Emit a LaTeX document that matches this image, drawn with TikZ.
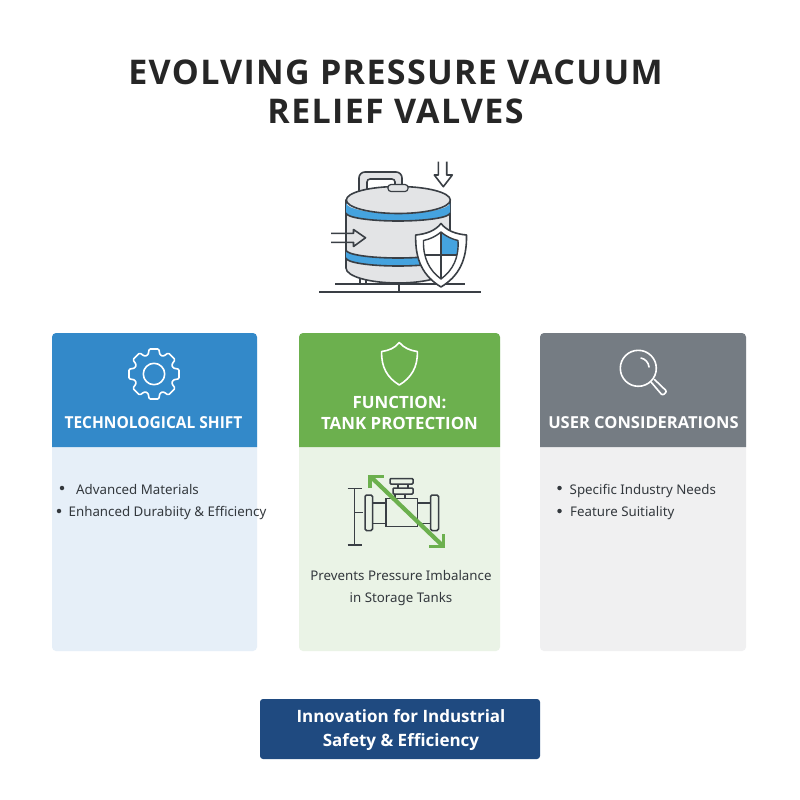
\documentclass[tikz,border=0pt]{standalone}
\usepackage{fontspec}
\setmainfont{Noto Sans}
\newfontfamily\titlefont[LetterSpace=4.0]{Open Sans}
\newfontfamily\headfont{Open Sans}
\newfontfamily\headfontn[FakeStretch=0.94]{Open Sans}
\usetikzlibrary{calc}
\definecolor{ink}{HTML}{3A3F45}
\definecolor{tankgrey}{HTML}{E3E4E6}
\definecolor{bandblue}{HTML}{45A3DF}
\definecolor{hblue}{HTML}{3389C9}
\definecolor{bblue}{HTML}{E6EFF8}
\definecolor{hgreen}{HTML}{6CB04E}
\definecolor{bgreen}{HTML}{EAF3E6}
\definecolor{hgrey}{HTML}{757C83}
\definecolor{bgrey}{HTML}{F0F0F1}
\definecolor{navy}{HTML}{1F4A80}
\definecolor{txt}{HTML}{33383D}
\tikzset{
 titletext/.style={font=\titlefont\bfseries\fontsize{34}{39.5}\selectfont,text=black!85,align=center},
 headtext/.style={font=\headfont\bfseries\fontsize{16.5}{20.5}\selectfont,text=white,align=center},
 bodytext/.style={font=\fontsize{13.3}{22}\selectfont,text=txt},
 bannertext/.style={font=\headfont\bfseries\fontsize{17}{24}\selectfont,text=white,align=center},
 dotmark/.style={circle,fill=txt,inner sep=0pt,minimum size=4.5pt},
 tankline/.style={draw=ink,line width=1.6pt,line join=round},
 whiteicon/.style={draw=white,line width=1.6pt,line join=round,line cap=round},
 valveline/.style={draw=ink,line width=1.5pt,fill=bgreen},
 greenarrow/.style={draw=hgreen,line width=3.4pt},
}
\begin{document}
\begin{tikzpicture}[x=1pt,y=-1pt]
\useasboundingbox (0,0) rectangle (800,800);
\fill[white] (0,0) rectangle (800,800);
\node[titletext] (title) at (395.5,92) {EVOLVING PRESSURE VACUUM\\RELIEF VALVES};

% tank handle
\draw[tankline,fill=tankgrey] (359,192) [rounded corners=6pt] -- (359,172) -- (402,172) [sharp corners] -- (402,187) -- (395,187) [rounded corners=3pt] -- (395,179) -- (367,179) [sharp corners] -- (367,190) -- cycle;
% tank body
\draw[tankline,fill=tankgrey] (346,200) -- (346,268) arc[start angle=180,end angle=0,x radius=52,y radius=15] -- (450,200) -- cycle;
% bands
\fill[bandblue] (346,203) arc[start angle=180,end angle=0,x radius=52,y radius=10.5] -- (450,213) arc[start angle=0,end angle=180,x radius=52,y radius=8] -- cycle;
\draw[ink,line width=1.6pt] (346,213) arc[start angle=180,end angle=0,x radius=52,y radius=8];
\fill[bandblue] (346,250) arc[start angle=180,end angle=0,x radius=52,y radius=8] -- (450,258) arc[start angle=0,end angle=180,x radius=52,y radius=8] -- cycle;
\draw[ink,line width=1.6pt] (346,250) arc[start angle=180,end angle=0,x radius=52,y radius=8];
\draw[ink,line width=1.6pt] (346,258) arc[start angle=180,end angle=0,x radius=52,y radius=8];
\draw[tankline,fill=tankgrey] (398.3,200) ellipse[x radius=52,y radius=13.5];
\draw[tankline,fill=tankgrey,line width=1.2pt,rounded corners=3pt] (388,184.5) rectangle (408,191.5);
% ground
\draw[ink,line width=1.3pt] (335,284) -- (465,284);
\draw[ink,line width=1.6pt] (319,292) -- (481,292);
\draw[ink,line width=1.3pt] (399,284) -- (399,292);
\draw[ink,line width=1.3pt] (360,279) -- (360,284) (366,279) -- (366,284);
% inlet arrow
\draw[ink,line width=1.6pt,line join=round] (331,233.3) -- (353.5,233.3) -- (353.5,229.5) -- (365.5,237.8) -- (353.5,246.5) -- (353.5,242.3) -- (331,242.3);
% down arrow
\draw[ink,line width=1.6pt,line join=round] (438.3,161.7) -- (438.3,175) -- (434.3,175) -- (443.3,186.7) -- (452.3,175) -- (446.7,175) -- (446.7,161.7);
% big shield
\draw[draw=ink,fill=white,line width=1.6pt,line join=round] (441,223.5) .. controls (447,231) and (456,234) .. (466.5,235) .. controls (467,260) and (459,276) .. (441,287) .. controls (423,276) and (415,260) .. (415.7,235) .. controls (426,234) and (435,231) .. (441,223.5) -- cycle;
\fill[bandblue] (441,232) .. controls (447,237) and (452,239) .. (458,240.5) .. controls (458.5,246) and (458,251) .. (457,255) -- (441,255) -- cycle;
\draw[draw=ink,line width=1.4pt,line join=round] (441,232) .. controls (447,237) and (452,239) .. (458,240.5) .. controls (459,258) and (453,270) .. (441,279) .. controls (429,270) and (423,258) .. (423.5,240.5) .. controls (430,239) and (435,237) .. (441,232) -- cycle;
\draw[ink,line width=1.3pt] (441,232) -- (441,279) (425,255) -- (457,255);

% cards
\fill[bblue,rounded corners=4pt] (52,340) rectangle (257,651);
\fill[hblue] (52,447) [rounded corners=4pt] -- (52,333) -- (257,333) [sharp corners] -- (257,447) -- cycle;
\fill[bgreen,rounded corners=4pt] (299,340) rectangle (500,651);
\fill[hgreen] (299,447) [rounded corners=4pt] -- (299,333) -- (500,333) [sharp corners] -- (500,447) -- cycle;
\fill[bgrey,rounded corners=4pt] (540,340) rectangle (746,651);
\fill[hgrey] (540,447) [rounded corners=4pt] -- (540,333) -- (746,333) [sharp corners] -- (746,447) -- cycle;

% gear
\begin{scope}[shift={(154,374)}]
\draw[whiteicon,rounded corners=1.2pt]
 (-11:25.5) -- (11:25.5) -- (17:20) -- (28:20) -- (34:25.5) -- (56:25.5) -- (62:20) -- (73:20) -- (79:25.5) -- (101:25.5) -- (107:20) -- (118:20) -- (124:25.5) -- (146:25.5) -- (152:20) -- (163:20) -- (169:25.5) -- (191:25.5) -- (197:20) -- (208:20) -- (214:25.5) -- (236:25.5) -- (242:20) -- (253:20) -- (259:25.5) -- (281:25.5) -- (287:20) -- (298:20) -- (304:25.5) -- (326:25.5) -- (332:20) -- (343:20) -- cycle;
\draw[whiteicon] (0,0) circle[radius=10.7];
\end{scope}
% header shield
\draw[whiteicon] (399.3,342.5) .. controls (404,348) and (410,350.5) .. (417.3,351.5) .. controls (418,367) and (411,378) .. (399.3,385) .. controls (387.5,378) and (381,367) .. (381.7,351.5) .. controls (389,350.5) and (395,348) .. (399.3,342.5) -- cycle;
% magnifier
\draw[whiteicon] (638.3,368.3) circle[radius=18];
\draw[whiteicon] (641,358) .. controls (645.5,359) and (648.5,362.5) .. (649,367);
\draw[whiteicon,rounded corners=2pt] (651,382) -- (662.5,395.5) -- (667,391.5) -- (654.5,379.5);

\node[headtext,font=\headfontn\bfseries\fontsize{16.5}{20.5}\selectfont] (head1) at (153.5,423) {TECHNOLOGICAL SHIFT};
\node[headtext,font=\headfont\bfseries\fontsize{16.9}{20.5}\selectfont] (head2) at (399.5,413) {FUNCTION:\\TANK PROTECTION};
\node[headtext] (head3) at (643.5,423) {USER CONSIDERATIONS};

% card 1 list
\node[dotmark] (d1) at (62,488) {};
\node[bodytext,anchor=base west,inner sep=0pt] (t1) at (76,494) {Advanced Materials};
\node[dotmark] (d2) at (59,511) {};
\node[bodytext,anchor=base west,inner sep=0pt] (t2) at (68.5,516) {Enhanced Durabiity \& Efficiency};
% card 3 list
\node[dotmark] (d3) at (559.5,488) {};
\node[bodytext,anchor=base west,inner sep=0pt] (t3) at (569.5,494) {Specific Industry Needs};
\node[dotmark] (d4) at (559.5,511) {};
\node[bodytext,anchor=base west,inner sep=0pt] (t4) at (570,516) {Feature Suitiality};

% valve
\draw[ink,line width=1.5pt] (347.5,488.5) -- (361.5,488.5) (354.5,488.5) -- (354.5,512.5) -- (363,512.5) (354.5,512.5) -- (354.5,545) (347.5,545) -- (361.5,545);
\draw[valveline] (395,494) rectangle (405,500);
\draw[valveline,rounded corners=1pt] (393,488) rectangle (413,494);
\draw[valveline,rounded corners=1pt] (390,478.5) rectangle (413,484);
\draw[ink,line width=1.5pt] (398,484) -- (398,488) (408,484) -- (408,488);
\draw[valveline] (372.5,503) rectangle (430.5,523.5);
\draw[valveline] (386,498.5) rectangle (417.5,526.5);
\draw[valveline,rounded corners=1.5pt] (365,495) rectangle (372.5,530.5);
\draw[valveline,rounded corners=1.5pt] (430.5,495) rectangle (438.5,530.5);
\coordinate (va) at (371,477);
\coordinate (vb) at (443,546);
\draw[greenarrow,line width=4.2pt] (va) -- (vb);
\draw[greenarrow,line cap=butt,line join=miter] (370,488) -- (370,476.5) -- (384,476.5);
\draw[greenarrow,line cap=butt,line join=miter] (443.5,534) -- (443.5,546.5) -- (429,546.5);

\node[bodytext,align=center,font=\fontsize{13.3}{22}\selectfont] (t5) at (401,588) {Prevents Pressure Imbalance\\in Storage Tanks};

% banner
\fill[navy,rounded corners=3pt] (260,699) rectangle (540,759);
\node[bannertext] (banner) at (401,730.5) {Innovation for Industrial\\Safety \& Efficiency};
\end{tikzpicture}
\end{document}
